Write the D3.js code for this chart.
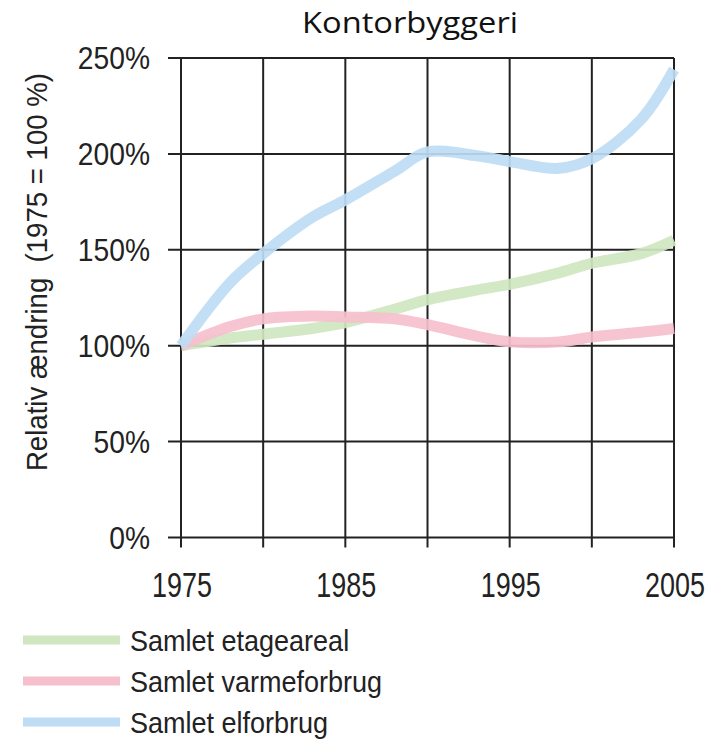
<!DOCTYPE html>
<html><head><meta charset="utf-8">
<script src="https://cdn.jsdelivr.net/npm/d3@7"></script>
<style>
html,body{margin:0;padding:0;background:#fff;}
svg{display:block;}
.nar{font-family:"Liberation Sans",Arial,sans-serif;}
</style></head>
<body>
<svg id="c" width="726" height="744"></svg>
<script>
const title = "Kontorbyggeri";
const yLabel = "Relativ ændring\u00a0 (1975 = 100 %)";
const years = [1975,1978,1980,1983,1985,1988,1990,1993,1995,1998,2000,2003,2005];
const etageareal  = [100,104,106,109,112,119,124,129,132,138,143,148,155];
const varmeforbrug = [100,110,114,115.5,115,114,111,105,102,102,104.5,107,109];
const elforbrug   = [100,133,148,167,176,191,201,199,196,192.5,197.5,218,244];
const seriesNames = ["Samlet etageareal","Samlet varmeforbrug","Samlet elforbrug"];
const seriesColors = ["#cfe6c0","#f6bfcd","#bedcf4"];
const xTicks = [1975,1980,1985,1990,1995,2000,2005];
const xTickLabels = [1975,1985,1995,2005];
const yTicks = [0,50,100,150,200,250];

const svg = d3.select("#c");
const x = d3.scaleLinear().domain([1975,2005]).range([181,674]);
const y = d3.scaleLinear().domain([0,250]).range([537.5,58]);

function squeeze(sel, s){
  sel.each(function(){
    const L = this.getComputedTextLength();
    d3.select(this).attr("textLength", L*s).attr("lengthAdjust","spacingAndGlyphs");
  });
  return sel;
}

// title
svg.append("text").attr("x",410).attr("y",33).attr("text-anchor","middle")
  .style("font-family","'Open Sans',sans-serif").style("font-size","29px").style("font-weight","500")
  .attr("fill","#111").text(title)
  .attr("textLength",216).attr("lengthAdjust","spacingAndGlyphs");

// grid
const g = svg.append("g");
g.selectAll("line.h").data(yTicks).join("line")
  .attr("x1",168).attr("x2",x(2005)).attr("y1",d=>y(d)).attr("y2",d=>y(d))
  .attr("stroke","#222").attr("stroke-width",2);
g.selectAll("line.v").data(xTicks).join("line")
  .attr("x1",d=>x(d)).attr("x2",d=>x(d)).attr("y1",y(250)).attr("y2",y(0)+10)
  .attr("stroke","#222").attr("stroke-width",2);

// y tick labels
squeeze(svg.selectAll("text.yt").data(yTicks).join("text").attr("class","nar")
  .attr("x",150).attr("y",d=>y(d)).attr("dy","0.36em").attr("text-anchor","end")
  .style("font-size","31px").attr("fill","#222").text(d=>d+"%"), 0.91);
// x tick labels
squeeze(svg.selectAll("text.xt").data(xTickLabels).join("text").attr("class","nar")
  .attr("x",d=>x(d)+1).attr("y",597).attr("text-anchor","middle")
  .style("font-size","35px").attr("fill","#222").text(d=>d), 0.77);
// y axis label
squeeze(svg.append("text").attr("class","nar")
  .attr("transform","translate(47,272) rotate(-90)").attr("text-anchor","middle")
  .style("font-size","30px").attr("fill","#222").text(yLabel), 0.92);

// lines
const line = d3.line().x((d,i)=>x(years[i])).y(d=>y(d)).curve(d3.curveCatmullRom.alpha(0.5));
[etageareal,varmeforbrug,elforbrug].forEach((s,i)=>{
  svg.append("path").attr("d",line(s)).attr("fill","none")
    .attr("stroke",seriesColors[i]).attr("stroke-width",11).attr("stroke-opacity",0.92)
    .attr("stroke-linecap","butt");
});

// legend
const leg = svg.append("g");
seriesNames.forEach((n,i)=>{
  const cy = 640 + i*41;
  leg.append("line").attr("x1",23).attr("x2",120).attr("y1",cy).attr("y2",cy)
    .attr("stroke",seriesColors[i]).attr("stroke-width",9);
  squeeze(leg.append("text").attr("class","nar").attr("x",130).attr("y",cy+11)
    .style("font-size","30px").attr("fill","#222").text(n), 0.9);
});
</script>
</body></html>
